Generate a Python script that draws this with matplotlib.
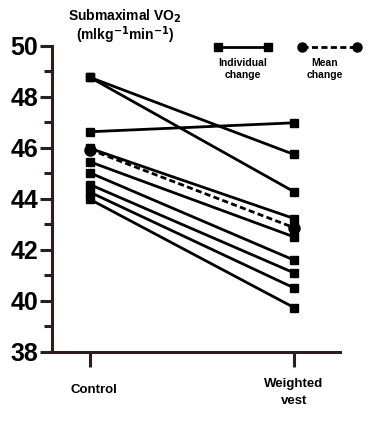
import matplotlib.pyplot as plt
from matplotlib import font_manager

# Submaximal VO2, control vs weighted vest
conditions = ["Control", "Weighted\nvest"]
control = [48.75, 48.75, 46.62, 45.97, 45.44, 45.01, 44.55, 44.25, 43.97]
weighted_vest = [45.73, 44.27, 46.97, 43.22, 42.50, 41.59, 41.09, 40.50, 39.73]
mean_change = [45.92, 42.86]
yticks = [38, 40, 42, 44, 46, 48, 50]

names = {f.name for f in font_manager.fontManager.ttflist}
narrow = "Liberation Sans Narrow" if "Liberation Sans Narrow" in names else "Liberation Sans"
plt.rcParams['font.family'] = ['Liberation Sans', 'DejaVu Sans']

fig = plt.figure(figsize=(3.75, 4.22), dpi=100)
ax = fig.add_axes([52 / 375, 1 - 351.7 / 422, 288 / 375, 306.2 / 422])

x = [0, 1]
for c, w in zip(control, weighted_vest):
    ax.plot(x, [c, w], color='black', lw=2.0, marker='s', ms=5.5,
            solid_capstyle='round', clip_on=False, zorder=3)
ax.plot(x, mean_change, color='black', lw=2.0, ls=(0, (2.2, 1.2)), marker='o', ms=8,
        clip_on=False, zorder=4)

ax.set_xlim(-38 / 204, 250 / 204)
ax.set_ylim(38, 50)
ax.set_yticks(yticks)
ax.set_yticks([39, 41, 43, 45, 47, 49], minor=True)
ax.set_yticklabels([str(t) for t in yticks], fontfamily=narrow, fontsize=18, fontweight='bold')
ax.set_xticks(x)
ax.set_xticklabels([])
ax.text(0.02, 36.75, conditions[0], ha='center', va='top', fontsize=9.5, fontweight='bold')
ax.text(1.0, 36.95, conditions[1], ha='center', va='top', fontsize=9.5, fontweight='bold',
        linespacing=1.45)

for s in ['top', 'right']:
    ax.spines[s].set_visible(False)
for s in ['left', 'bottom']:
    ax.spines[s].set_linewidth(2.2)
    ax.spines[s].set_color('#2a1e1e')
ax.tick_params(axis='y', which='major', length=9, width=2.2, color='#2a1e1e', pad=1)
ax.tick_params(axis='y', which='minor', length=6, width=2.2, color='#2a1e1e')
ax.tick_params(axis='x', length=11, width=2.2, color='#2a1e1e')

# title
fig.text(125 / 375, 1 - 16 / 422, "Submaximal VO$_\\mathbf{2}$", ha='center', va='center',
         fontsize=10, fontweight='bold')
fig.text(125 / 375, 1 - 35 / 422, "(mlkg$^{\\mathbf{-1}}$min$^{\\mathbf{-1}}$)", ha='center',
         va='center', fontsize=10, fontweight='bold')

# legend drawn by hand in figure coords
leg = fig.add_axes([0, 0, 1, 1], facecolor='none')
leg.set_xlim(0, 375)
leg.set_ylim(422, 0)
leg.axis('off')
leg.plot([218, 268], [47, 47], color='black', lw=2.0, marker='s', ms=5.5)
leg.plot([302, 357], [47, 47], color='black', lw=2.0, ls=(0, (2.2, 1.2)), marker='o', ms=6.5)
leg.text(243, 69, "Individual\nchange", ha='center', va='center', fontsize=7.5,
         fontweight='bold', linespacing=1.15)
leg.text(325, 69, "Mean\nchange", ha='center', va='center', fontsize=7.5,
         fontweight='bold', linespacing=1.15)

fig.savefig("out.png", dpi=100)
